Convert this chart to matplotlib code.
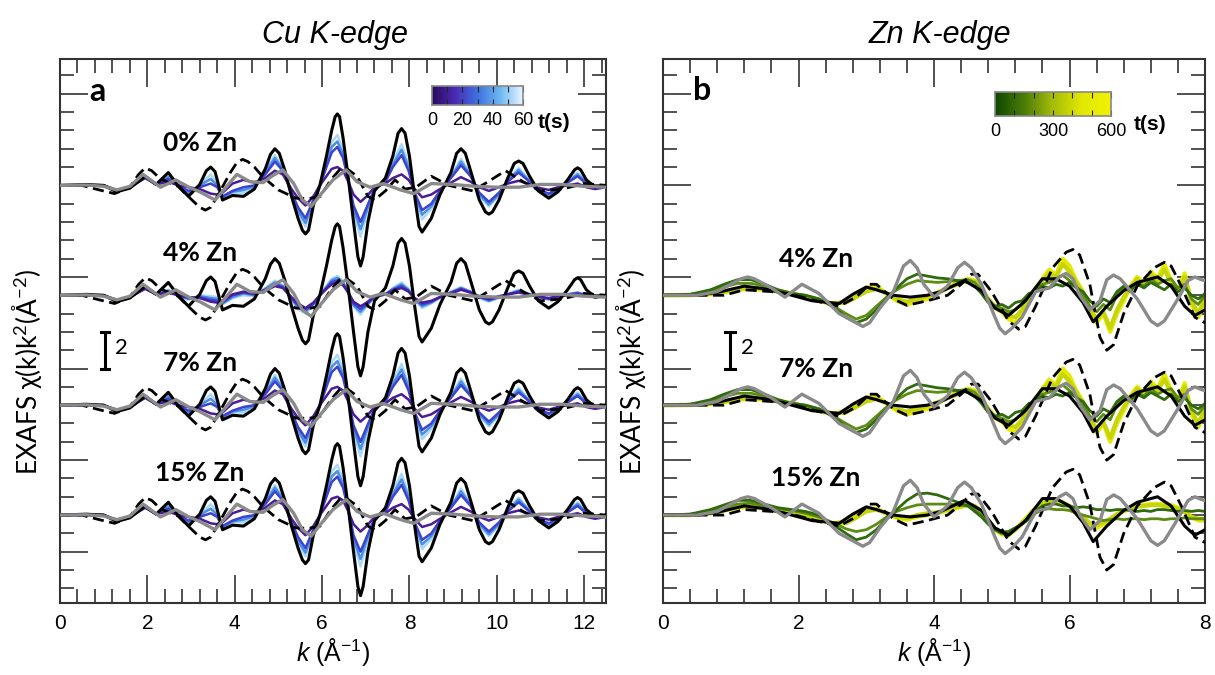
import numpy as np
import matplotlib
matplotlib.use('Agg')
import matplotlib.pyplot as plt
from matplotlib.ticker import MultipleLocator
from matplotlib.colors import LinearSegmentedColormap

plt.rcParams['font.family'] = ['Liberation Sans', 'DejaVu Sans']
plt.rcParams['mathtext.fontset'] = 'custom'
plt.rcParams['mathtext.rm'] = 'Liberation Sans'
plt.rcParams['mathtext.it'] = 'Liberation Sans:italic'
plt.rcParams['mathtext.default'] = 'regular'

# ---------------- Cu K-edge data ----------------
k_cu_black = [0, 0.6, 1.0, 1.3, 1.6, 1.95, 2.2, 2.48, 2.7, 2.94,
              3.2, 3.35, 3.45, 3.55, 3.72, 3.95, 4.2, 4.45, 4.7, 4.82,
              4.92, 5.02, 5.15, 5.3, 5.45, 5.55, 5.62, 5.69, 5.8, 5.95,
              6.1, 6.22, 6.3, 6.35, 6.4, 6.48, 6.6, 6.72, 6.82, 6.88,
              6.94, 7.05, 7.2, 7.45, 7.62, 7.74, 7.82, 7.9, 8.0, 8.12,
              8.22, 8.29, 8.36, 8.5, 8.7, 8.95, 9.08, 9.18, 9.28, 9.4,
              9.6, 9.74, 9.82, 9.9, 10.05, 10.25, 10.4, 10.5, 10.6, 10.75,
              10.95, 11.19, 11.4, 11.62, 11.78, 11.85, 11.92, 12.05, 12.25, 12.5]
cu_black = [0, 0.05, 0.0, -0.35, -0.15, 0.5, 0.05, 0.7, 0.0, -0.6,
            0.05, 0.8, 1.0, 0.75, -0.8, -0.55, -0.6, -0.2, 0.9, 1.7,
            2.0, 1.75, 0.8, -0.6, -1.8, -2.45, -2.65, -2.45, -1.1, 0.0,
            1.6, 3.0, 3.75, 3.9, 3.75, 2.6, 0.4, -2.0, -3.9, -4.4,
            -3.9, -2.0, -0.3, 0.4, 1.6, 2.85, 3.1, 2.85, 1.6, -0.6,
            -2.25, -2.55, -2.3, -1.8, -0.5, 0.7, 1.75, 2.0, 1.75, 0.8,
            -0.8, -1.45, -1.57, -1.45, -0.8, 0.4, 1.2, 1.33, 1.2, 0.5,
            -0.3, -0.7, -0.35, 0.3, 0.85, 0.96, 0.85, 0.3, -0.1, 0.0]

k_cu_dash = [0, 0.5, 0.9, 1.25, 1.6, 1.8, 1.95, 2.1, 2.3, 2.7,
             3.0, 3.2, 3.33, 3.45, 3.6, 3.9, 4.05, 4.18, 4.3, 4.45,
             4.65, 5.0, 5.4, 5.7, 5.96, 6.2, 6.4, 6.5, 6.6, 6.8,
             7.05, 7.2, 7.45, 7.67, 7.9, 8.15, 8.5, 8.9, 9.45, 9.8,
             10.2, 10.6, 11.0, 11.5, 12.0, 12.5]
cu_dash = [0, 0, -0.25, -0.45, -0.1, 0.6, 0.95, 0.8, 0.35, -0.05,
           -0.75, -1.2, -1.35, -1.2, -0.6, 0.7, 1.25, 1.42, 1.3, 1.0,
           0.45, -0.25, -0.7, -0.72, -0.6, 0.3, 0.85, 0.96, 0.85, 0.5,
           -0.6, -0.8, -0.3, 0.3, -0.2, -0.1, 0.5, 0.0, -0.3, 0.2,
           0.8, 0.2, -0.3, -0.2, 0.1, 0.0]

k_cu_gray = [0, 0.6, 1.0, 1.3, 1.6, 1.9, 2.3, 2.65, 2.95, 3.2, 3.55, 3.8, 4.05,
             4.35, 4.65, 4.85, 5.1, 5.35, 5.55, 5.75, 6.0, 6.25, 6.55, 6.8, 7.1,
             7.4, 7.8, 8.1, 8.5, 9.0, 9.5, 10.0, 10.5, 11.0, 11.5, 12.0, 12.5]
cu_gray = [0, 0.02, -0.05, -0.25, -0.05, 0.6, -0.1, 0.3, -0.1, -0.35, -0.8, -0.1, 0.6,
           0.2, 0.15, 0.5, 0.85, 0.1, -0.8, -1.15, -0.4, 0.3, 0.85, 0.2, -0.1,
           0.1, -0.25, -0.45, 0.1, 0.05, -0.05, -0.1, -0.1, 0.05, 0.05, -0.05, -0.1]

# time-resolved spectra (t = 0 -> 60 s), sampled on k_cu
k_cu = [0.0, 0.6, 1.0, 1.3, 1.6, 1.95, 2.2, 2.48, 2.7, 2.94,
        3.2, 3.45, 3.6, 3.72, 3.95, 4.2, 4.45, 4.7, 4.92, 5.1,
        5.3, 5.45, 5.62, 5.8, 5.95, 6.1, 6.22, 6.35, 6.48, 6.6,
        6.72, 6.88, 7.02, 7.2, 7.45, 7.62, 7.82, 7.98, 8.12, 8.29,
        8.5, 8.7, 8.95, 9.18, 9.4, 9.6, 9.82, 10.05, 10.25, 10.5,
        10.7, 10.9, 11.19, 11.4, 11.62, 11.85, 12.05, 12.25, 12.5]
cu_t_main = [
    [0, 0, 0, -0.25, -0.1, 0.4, 0.05, 0.2, 0.0, -0.1,
     -0.2, -0.45, -0.5, -0.4, 0.1, 0.3, 0.15, 0.4, 0.8, 0.6,
     -0.2, -0.7, -1.1, -0.6, 0.0, 0.5, 0.9, 1.0, 0.8, 0.2,
     -0.5, -0.9, -0.6, -0.1, 0.1, 0.4, 0.6, 0.3, -0.2, -0.65,
     -0.5, -0.2, 0.15, 0.45, 0.2, -0.1, -0.3, -0.1, 0.1, 0.25,
     0.1, -0.1, -0.25, -0.1, 0.0, 0.1, -0.1, -0.2, -0.1],
    [0, 0, 0, -0.3, -0.1, 0.45, 0.05, 0.35, 0.0, -0.3,
     -0.1, 0.1, -0.1, -0.6, -0.3, -0.1, 0.0, 0.6, 1.3, 0.8,
     -0.4, -1.2, -1.8, -0.8, 0.0, 1.0, 1.8, 2.1, 1.5, 0.3,
     -1.1, -2.0, -1.2, -0.2, 0.2, 1.0, 1.65, 0.8, -0.4, -1.35,
     -1.0, -0.3, 0.4, 1.1, 0.5, -0.4, -0.9, -0.4, 0.2, 0.7,
     0.3, -0.2, -0.45, -0.2, 0.15, 0.5, 0.1, -0.15, -0.05],
    [0, 0, 0, -0.3, -0.1, 0.5, 0.05, 0.45, 0.0, -0.4,
     0.0, 0.35, 0.0, -0.65, -0.35, -0.25, -0.05, 0.7, 1.5, 0.9,
     -0.45, -1.4, -2.05, -0.9, 0.0, 1.15, 2.1, 2.4, 1.7, 0.3,
     -1.3, -2.4, -1.4, -0.2, 0.2, 1.15, 1.95, 1.0, -0.45, -1.6,
     -1.15, -0.35, 0.45, 1.3, 0.55, -0.5, -1.05, -0.5, 0.25, 0.85,
     0.35, -0.2, -0.5, -0.25, 0.2, 0.6, 0.15, -0.1, 0.0],
    [0, 0, 0, -0.3, -0.1, 0.5, 0.05, 0.55, 0.0, -0.5,
     0.0, 0.6, 0.1, -0.7, -0.4, -0.4, -0.1, 0.75, 1.65, 0.95,
     -0.5, -1.55, -2.25, -0.95, 0.0, 1.3, 2.35, 2.75, 1.9, 0.35,
     -1.5, -2.8, -1.6, -0.25, 0.25, 1.3, 2.25, 1.15, -0.5, -1.85,
     -1.3, -0.4, 0.5, 1.45, 0.6, -0.6, -1.15, -0.55, 0.3, 0.95,
     0.4, -0.25, -0.55, -0.3, 0.25, 0.7, 0.2, -0.1, 0.0],
]
cu_t_4pct = [
    [0, 0, 0, -0.25, -0.1, 0.35, 0.05, 0.15, 0.0, -0.1,
     -0.15, -0.35, -0.4, -0.3, 0.05, 0.2, 0.1, 0.25, 0.5, 0.4,
     -0.1, -0.45, -0.7, -0.4, 0.0, 0.35, 0.6, 0.7, 0.55, 0.15,
     -0.35, -0.6, -0.4, -0.05, 0.05, 0.25, 0.4, 0.2, -0.15, -0.4,
     -0.3, -0.1, 0.1, 0.3, 0.15, -0.05, -0.2, -0.05, 0.05, 0.15,
     0.05, -0.05, -0.15, -0.05, 0.0, 0.05, -0.05, -0.1, -0.05],
    [0, 0, 0, -0.28, -0.1, 0.4, 0.05, 0.2, 0.0, -0.15,
     -0.1, -0.25, -0.3, -0.4, 0.0, 0.15, 0.05, 0.3, 0.6, 0.45,
     -0.15, -0.55, -0.8, -0.45, 0.0, 0.4, 0.72, 0.82, 0.62, 0.15,
     -0.45, -0.75, -0.5, -0.05, 0.05, 0.3, 0.5, 0.25, -0.2, -0.5,
     -0.35, -0.1, 0.15, 0.35, 0.15, -0.1, -0.25, -0.1, 0.05, 0.2,
     0.05, -0.05, -0.2, -0.05, 0.05, 0.1, 0.0, -0.1, -0.05],
    [0, 0, 0, -0.3, -0.1, 0.45, 0.05, 0.25, 0.0, -0.2,
     -0.05, -0.15, -0.2, -0.45, -0.1, 0.1, 0.0, 0.35, 0.7, 0.5,
     -0.2, -0.65, -0.9, -0.5, 0.0, 0.45, 0.82, 0.95, 0.7, 0.15,
     -0.55, -0.9, -0.55, -0.1, 0.05, 0.35, 0.6, 0.3, -0.2, -0.6,
     -0.4, -0.1, 0.15, 0.4, 0.2, -0.1, -0.3, -0.1, 0.05, 0.25,
     0.1, -0.05, -0.2, -0.1, 0.05, 0.15, 0.0, -0.1, -0.05],
    [0, 0, 0, -0.3, -0.1, 0.5, 0.05, 0.3, 0.0, -0.25,
     0.0, -0.05, -0.1, -0.5, -0.15, 0.0, -0.05, 0.4, 0.8, 0.55,
     -0.25, -0.75, -1.0, -0.55, 0.0, 0.5, 0.9, 1.05, 0.75, 0.15,
     -0.6, -1.05, -0.6, -0.1, 0.05, 0.4, 0.7, 0.35, -0.25, -0.7,
     -0.45, -0.15, 0.2, 0.45, 0.2, -0.15, -0.35, -0.15, 0.1, 0.3,
     0.1, -0.05, -0.25, -0.1, 0.05, 0.15, 0.0, -0.1, -0.05],
]
cu_labels = ['0% Zn', '4% Zn', '7% Zn', '15% Zn']
cu_offsets = [20, 14, 8, 2]
cu_t_sets = [cu_t_main, cu_t_4pct, cu_t_main, cu_t_main]
cu_t_colors = ['#a9d9f7', '#4a8fe4', '#3c43d2', '#4b1c98']  # drawn light -> dark

# ---------------- Zn K-edge data ----------------
k_zn_black = [0, 0.5, 0.8, 1.2, 1.5, 1.8, 2.2, 2.6, 2.8, 3.0, 3.15, 3.4, 3.65, 3.9,
              4.1, 4.45, 4.7, 4.9, 5.1, 5.35, 5.6, 5.8, 6.0, 6.2, 6.35, 6.55, 6.8,
              7.0, 7.3, 7.5, 7.7, 7.85, 8.0]
zn_black = [0, 0, 0.15, 0.5, 0.35, 0.1, -0.3, -0.45, 0.05, 0.45, 0.3, 0.0, -0.1, 0.0,
            0.2, 0.8, 0.25, -0.7, -1.1, -0.3, 0.9, 0.9, 0.5, -0.4, -1.45, -0.6, 0.25,
            0.7, 1.0, 0.5, -0.6, -1.1, -0.8]

k_zn_dash = [0, 0.9, 1.2, 1.6, 1.9, 2.3, 2.6, 2.85, 3.05, 3.15,
             3.4, 3.6, 3.9, 4.2, 4.4, 4.55, 4.65, 4.85, 5.1, 5.25,
             5.35, 5.5, 5.75, 5.95, 6.05, 6.15, 6.3, 6.45, 6.55, 6.65,
             6.8, 7.0, 7.25, 7.4, 7.5, 7.65, 7.85, 8.0]
zn_dash = [0, 0, 0.3, 0.2, 0.05, -0.35, -0.6, -0.1, 0.6, 0.6,
           -0.2, -0.55, -0.3, 0.0, 0.6, 1.15, 1.15, 0.2, -1.4, -1.85,
           -1.7, -0.6, 1.5, 2.35, 2.5, 2.2, 0.6, -2.3, -3.0, -2.7,
           -1.0, 0.5, 1.5, 1.8, 1.6, 0.5, -1.2, -1.5]

k_zn_gray = [0, 0.5, 0.8, 1.0, 1.15, 1.25, 1.35, 1.6, 1.8, 2.05,
             2.3, 2.6, 2.85, 2.95, 3.05, 3.2, 3.4, 3.55, 3.65, 3.75,
             3.85, 4.0, 4.2, 4.35, 4.45, 4.55, 4.7, 4.9, 4.97, 5.05,
             5.15, 5.3, 5.5, 5.7, 5.85, 5.95, 6.05, 6.15, 6.3, 6.45,
             6.55, 6.65, 6.75, 7.0, 7.2, 7.3, 7.4, 7.6, 7.75, 7.85,
             7.95, 8.0]
zn_gray = [0, 0, 0.2, 0.6, 0.9, 1.0, 0.9, 0.4, -0.1, 0.6,
           0.1, -1.0, -1.5, -1.7, -1.5, -0.7, 0.2, 1.6, 1.9, 1.5,
           0.6, -0.1, 0.5, 1.5, 1.8, 1.5, 0.6, -1.2, -1.8, -2.1,
           -1.8, -1.2, 0.2, 0.4, 1.0, 1.2, 0.9, 0.0, -0.8, -0.3,
           0.85, 1.1, 0.9, -0.2, -1.4, -1.65, -1.4, -0.2, 0.8, 1.0,
           0.85, 0.8]

k_zn_t = [0, 0.4, 0.7, 0.9, 1.1, 1.3, 1.5, 1.7, 1.9, 2.1,
          2.3, 2.5, 2.7, 2.85, 3.0, 3.15, 3.3, 3.45, 3.6, 3.75,
          3.9, 4.05, 4.2, 4.35, 4.5, 4.6, 4.7, 4.8, 4.9, 5.0,
          5.1, 5.2, 5.3, 5.4, 5.5, 5.6, 5.7, 5.8, 5.9, 6.0,
          6.1, 6.2, 6.3, 6.4, 6.5, 6.6, 6.7, 6.8, 6.9, 7.0,
          7.1, 7.2, 7.3, 7.4, 7.5, 7.6, 7.7, 7.8, 7.9, 8.0]
# time-resolved spectra (t = 0 -> 600 s), sampled on k_zn_t
zn_t_low = [
    [0, 0.05, 0.3, 0.6, 0.85, 0.85, 0.6, 0.3, 0.1, 0.0,
     -0.2, -0.6, -1.2, -1.5, -1.3, -0.8, -0.2, 0.4, 0.9, 1.15,
     1.05, 0.95, 0.9, 0.8, 0.7, 0.5, 0.1, -0.4, -0.6, -0.5,
     -0.7, -0.4, -0.3, 0.1, 0.2, 0.5, 0.4, 0.6, 0.5, 0.7,
     0.4, 0.2, -0.3, -0.6, -0.2, -0.4, 0.2, 0.5, 0.3, 0.6,
     0.4, 0.7, 0.5, 0.3, 0.6, 0.2, 0.4, 0.0, -0.2, 0.1],
    [0, 0.05, 0.2, 0.45, 0.65, 0.65, 0.5, 0.25, 0.1, 0.0,
     -0.2, -0.55, -1.0, -1.3, -1.1, -0.6, -0.1, 0.3, 0.6, 0.8,
     0.75, 0.7, 0.75, 0.8, 0.85, 0.7, 0.3, -0.3, -0.6, -0.7,
     -0.9, -0.8, -0.5, 0.0, 0.3, 0.6, 0.7, 0.9, 1.1, 0.8,
     0.5, 0.0, -0.6, -0.9, -0.5, -0.8, 0.0, 0.4, 0.2, 0.7,
     0.5, 0.9, 0.6, 0.8, 0.9, 0.4, 0.6, -0.2, -0.5, 0.0],
    [0, 0.02, 0.08, 0.2, 0.35, 0.4, 0.35, 0.25, 0.1, -0.05,
     -0.25, -0.45, -0.4, -0.1, 0.2, 0.35, 0.1, -0.2, -0.35, -0.2,
     -0.05, 0.15, 0.4, 0.6, 0.85, 0.75, 0.35, -0.2, -0.6, -0.85,
     -1.1, -1.2, -0.8, -0.2, 0.4, 0.8, 1.2, 1.0, 1.7, 1.3,
     0.7, 0.1, -0.7, -1.3, -0.9, -1.8, -0.8, -0.1, 0.4, 0.9,
     0.5, 1.1, 0.8, 1.4, 0.7, 0.2, 1.0, -0.3, -1.0, -0.2],
    [0, 0, 0.05, 0.15, 0.3, 0.35, 0.3, 0.2, 0.1, -0.1,
     -0.3, -0.5, -0.3, 0.1, 0.4, 0.5, 0.1, -0.3, -0.5, -0.35,
     -0.2, 0.1, 0.4, 0.7, 0.9, 0.8, 0.4, -0.2, -0.7, -0.9,
     -1.3, -1.5, -1.0, -0.4, 0.3, 0.9, 1.4, 1.1, 2.0, 1.6,
     0.8, 0.2, -0.8, -1.5, -1.0, -2.0, -1.0, -0.3, 0.5, 1.0,
     0.6, 1.3, 0.9, 1.7, 0.8, 0.3, 1.2, -0.5, -1.2, -0.4],
]
zn_t_15 = [
    [0, 0.05, 0.3, 0.55, 0.8, 0.8, 0.6, 0.4, 0.3, 0.2,
     0.0, -0.5, -1.0, -1.35, -1.2, -0.8, -0.2, 0.3, 0.8, 1.15,
     1.2, 1.1, 0.9, 0.7, 0.5, 0.2, -0.1, -0.5, -0.8, -1.0,
     -0.9, -0.7, -0.5, -0.2, 0.2, 0.5, 0.6, 0.6, 0.5, 0.5,
     0.4, 0.45, 0.4, 0.3, 0.3, 0.25, 0.3, 0.3, 0.25, 0.2,
     0.25, 0.2, 0.3, 0.3, 0.25, 0.2, 0.25, 0.2, 0.25, 0.2],
    [0, 0.05, 0.2, 0.4, 0.6, 0.65, 0.5, 0.35, 0.25, 0.1,
     -0.1, -0.4, -0.75, -0.9, -0.8, -0.5, -0.1, 0.2, 0.4, 0.55,
     0.6, 0.6, 0.6, 0.55, 0.5, 0.3, 0.0, -0.4, -0.7, -0.9,
     -0.9, -0.7, -0.5, -0.2, 0.1, 0.3, 0.35, 0.3, 0.3, 0.25,
     0.1, 0.0, -0.1, -0.2, -0.3, -0.25, -0.2, -0.25, -0.2, -0.2,
     -0.25, -0.2, -0.2, -0.25, -0.2, -0.2, -0.15, -0.2, -0.2, -0.2],
    [0, 0, 0.1, 0.25, 0.45, 0.5, 0.4, 0.25, 0.1, 0.0,
     -0.2, -0.45, -0.45, -0.15, 0.2, 0.3, 0.1, -0.1, -0.15, 0.0,
     0.1, 0.15, 0.3, 0.45, 0.55, 0.5, 0.2, -0.3, -0.75, -1.0,
     -1.05, -0.8, -0.45, -0.05, 0.35, 0.6, 0.75, 0.8, 0.65, 0.45,
     0.2, -0.1, -0.45, -0.55, -0.4, -0.2, 0.05, 0.25, 0.35, 0.45,
     0.5, 0.55, 0.55, 0.5, 0.45, 0.35, 0.15, -0.1, -0.2, -0.2],
    [0, 0, 0.1, 0.25, 0.4, 0.45, 0.35, 0.2, 0.1, -0.05,
     -0.25, -0.45, -0.35, 0.0, 0.3, 0.35, 0.1, -0.15, -0.25, -0.1,
     0.0, 0.1, 0.25, 0.4, 0.55, 0.5, 0.2, -0.3, -0.8, -1.05,
     -1.1, -0.8, -0.4, 0.0, 0.4, 0.65, 0.8, 0.85, 0.7, 0.5,
     0.2, -0.2, -0.6, -0.7, -0.5, -0.3, 0.0, 0.2, 0.35, 0.5,
     0.55, 0.6, 0.6, 0.6, 0.55, 0.4, 0.2, -0.1, -0.3, -0.3],
]
zn_labels = ['4% Zn', '7% Zn', '15% Zn']
zn_offsets = [14, 8, 2]
zn_t_sets = [zn_t_low, zn_t_low, zn_t_15]
zn_t_colors = ['#2f6a0c', '#5c8c12', '#c6d40a', '#e6ea00']
zn_t_widths = [2.0, 2.0, 3.0, 3.0]

cu_cmap = LinearSegmentedColormap.from_list('cu', ['#2a0a5c', '#4a2ab5', '#3e70e0', '#6cb8f2', '#eaf6ff'])
zn_cmap = LinearSegmentedColormap.from_list('zn', ['#0c4800', '#4b7c08', '#a6bd08', '#e2e800', '#f2f200'])

W, H = 1215, 675
fig = plt.figure(figsize=(W / 100, H / 100), dpi=100)
axL = fig.add_axes([60 / W, 1 - 603 / H, 546 / W, 544 / H])
axR = fig.add_axes([663 / W, 1 - 603 / H, 542 / W, 544 / H])

for ax in (axL, axR):
    ax.set_ylim(-2.8, 26.9)
    ax.yaxis.set_major_locator(MultipleLocator(5))
    ax.yaxis.set_minor_locator(MultipleLocator(1))
    ax.xaxis.set_major_locator(MultipleLocator(2))
    ax.xaxis.set_minor_locator(MultipleLocator(0.4))
    ax.tick_params(which='both', direction='in', top=True, right=True,
                   labelleft=False, color='#333333')
    ax.tick_params(which='major', length=20, width=1.2, labelsize=15, pad=8)
    ax.tick_params(which='minor', length=10, width=1.2)
    for s in ax.spines.values():
        s.set_linewidth(1.5)
        s.set_color('#333333')
    ax.set_xlabel('$\\mathit{k}$ (Å$^{-1}$)', fontsize=18, labelpad=2)

axL.set_xlim(0, 12.5)
axR.set_xlim(0, 8)

lab_font = ['Lato', 'DejaVu Sans']

# left panel curves
for off, tset, lab in zip(cu_offsets, cu_t_sets, cu_labels):
    for col, y in zip(cu_t_colors, tset[::-1]):
        axL.plot(k_cu, np.array(y) + off, color=col, lw=1.8, zorder=2)
    axL.plot(k_cu_black, np.array(cu_black) + off, color='black', lw=2.2, zorder=3)
    axL.plot(k_cu_dash, np.array(cu_dash) + off, color='black', lw=2.0,
             ls=(0, (4, 2)), zorder=4)
    axL.plot(k_cu_gray, np.array(cu_gray) + off, color='#8a8a8a', lw=2.4, zorder=5)
    axL.text(3.2, off + 2.3, lab, fontsize=19, fontweight='bold', family=lab_font,
             ha='center', va='center', zorder=6)

# right panel curves
for off, tset, lab in zip(zn_offsets, zn_t_sets, zn_labels):
    for col, lw, y in zip(zn_t_colors[::-1], zn_t_widths[::-1], tset[::-1]):
        axR.plot(k_zn_t, np.array(y) + off, color=col, lw=lw, zorder=2)
    axR.plot(k_zn_black, np.array(zn_black) + off, color='black', lw=2.2, zorder=3)
    axR.plot(k_zn_dash, np.array(zn_dash) + off, color='black', lw=2.0,
             ls=(0, (4, 2)), zorder=4)
    axR.plot(k_zn_gray, np.array(zn_gray) + off, color='#8a8a8a', lw=2.4, zorder=5)
    axR.text(2.26, off + 2.0, lab, fontsize=19, fontweight='bold', family=lab_font,
             ha='center', va='center', zorder=6)

# scale bars
for ax, x in ((axL, 1.03), (axR, 0.99)):
    ax.plot([x, x], [10, 12], color='black', lw=2.2)
    dx = 0.1 if ax is axL else 0.07
    ax.plot([x - dx, x + dx], [10, 10], color='black', lw=2.2)
    ax.plot([x - dx, x + dx], [12, 12], color='black', lw=2.2)
    ax.text(x + 2.2 * dx, 11.1, '2', fontsize=16, family=lab_font, ha='left', va='center')

axL.text(0.86, 25.1, 'a', fontsize=23, fontweight='bold', family=lab_font, ha='center', va='center')
axR.text(0.58, 25.2, 'b', fontsize=23, fontweight='bold', family=lab_font, ha='center', va='center')

# titles and y labels
fig.text(335 / W, 1 - 35 / H, 'Cu K-edge', fontsize=22, style='italic', ha='center', va='center')
fig.text(940 / W, 1 - 35 / H, 'Zn K-edge', fontsize=22, style='italic', ha='center', va='center')
ylab = 'EXAFS χ(k)k$^{2}$(Å$^{-2}$)'
fig.text(27 / W, 1 - 372 / H, ylab, fontsize=19, family=lab_font, rotation=90, ha='center', va='center')
fig.text(631 / W, 1 - 372 / H, ylab, fontsize=19, family=lab_font, rotation=90, ha='center', va='center')

# time colour bars
def time_bar(rect, cmap, vmax, ticks, minor, lab_x, lab_y):
    cax = fig.add_axes(rect)
    grad = np.linspace(0, 1, 256)[None, :]
    cax.imshow(grad, cmap=cmap, aspect='auto', extent=[0, vmax, 0, 1])
    cax.set_xticks(ticks)
    cax.set_xticks(np.arange(0, vmax + 0.1, minor), minor=True)
    cax.set_yticks([])
    cax.tick_params(which='both', direction='in', top=True, bottom=True,
                    length=4, width=0.8, color='#222222', labelsize=13, pad=5)
    for s in cax.spines.values():
        s.set_color('#888888')
        s.set_linewidth(1.2)
    fig.text(lab_x / W, 1 - lab_y / H, 't(s)', fontsize=15, fontweight='bold',
             ha='left', va='center')

time_bar([432 / W, 1 - 105 / H, 91 / W, 19 / H], cu_cmap, 60, [0, 20, 40, 60], 10, 538, 122)
time_bar([995 / W, 1 - 116 / H, 116 / W, 24 / H], zn_cmap, 600, [0, 300, 600], 100, 1134, 125)

fig.savefig('out.png', dpi=100)
